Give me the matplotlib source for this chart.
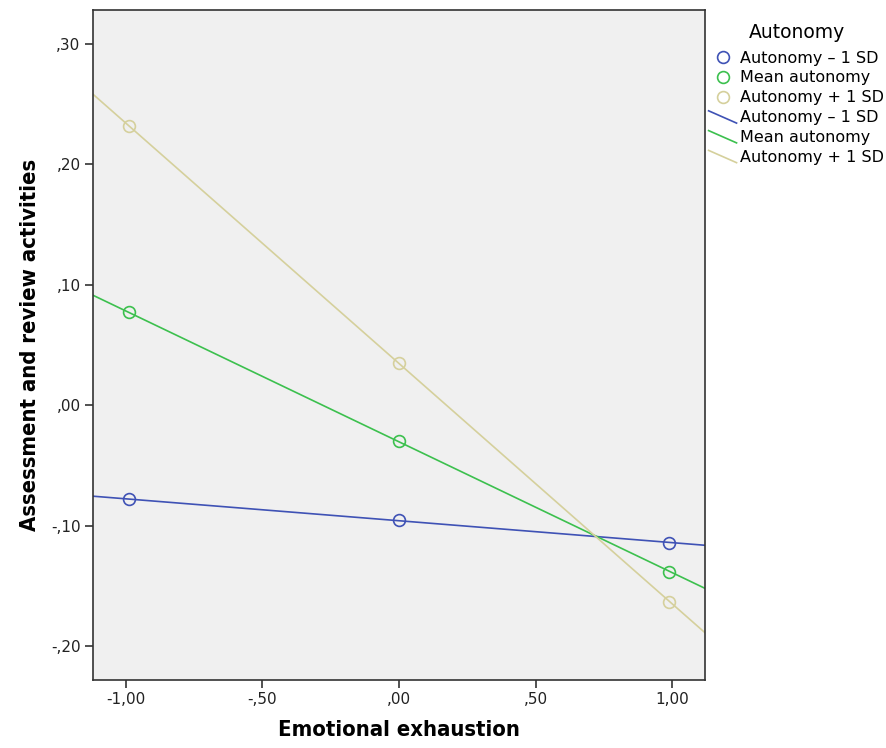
import numpy as np
import matplotlib
matplotlib.use("Agg")
import matplotlib.pyplot as plt
from matplotlib.lines import Line2D
from matplotlib.legend_handler import HandlerBase
from matplotlib.ticker import FuncFormatter, MultipleLocator

# Data
x_levels = [-0.99, 0.0, 0.99]
series_names = ["Autonomy \u2013 1 SD", "Mean autonomy", "Autonomy + 1 SD"]
legend_title = "Autonomy"
low_sd = [-0.078, -0.0955, -0.114]
mean_aut = [0.077, -0.030, -0.138]
high_sd = [0.232, 0.035, -0.163]
colors = ["#3f52b5", "#3cc04e", "#d5d09c"]

xlim = (-1.12, 1.12)
ylim = (-0.228, 0.328)

fig = plt.figure(figsize=(8.86, 7.48), dpi=100)
ax = fig.add_axes([93/886, 1-680/748, (705-93)/886, (680-10)/748])
ax.set_facecolor("#f0f0f0")

marker_handles = []
line_handles = []
xs = np.array(xlim)
for name, ys, c in zip(series_names, [low_sd, mean_aut, high_sd], colors):
    mh, = ax.plot(x_levels, ys, "o", mfc="none", mec=c, ms=8.5, mew=1.2, label=name, zorder=3)
    coef = np.polyfit(x_levels, ys, 1)
    lh, = ax.plot(xs, np.polyval(coef, xs), "-", color=c, lw=1.2, label=name, zorder=2)
    marker_handles.append(mh)
    line_handles.append(lh)

ax.set_xlim(*xlim)
ax.set_ylim(*ylim)
ax.xaxis.set_major_locator(MultipleLocator(0.5))
ax.yaxis.set_major_locator(MultipleLocator(0.1))

def fmt(v, pos):
    s = f"{v:.2f}".replace(".", ",")
    if abs(v) < 1e-9:
        return ",00"
    if s.startswith("0,"):
        s = s[1:]
    elif s.startswith("-0,"):
        s = "-" + s[2:]
    return s

ax.xaxis.set_major_formatter(FuncFormatter(fmt))
ax.yaxis.set_major_formatter(FuncFormatter(fmt))
ax.tick_params(direction="out", length=6, width=1.2, color="#333333",
               labelsize=11, labelcolor="#222222", pad=3)
ax.tick_params(top=False, right=False)
for sp in ax.spines.values():
    sp.set_color("#333333")
    sp.set_linewidth(1.2)

lab_font = dict(family=["DejaVu Sans"], stretch="condensed", weight="bold", size=15.8)
ax.set_xlabel("Emotional exhaustion", labelpad=9, **lab_font)
ax.set_ylabel("Assessment and review activities", labelpad=8, **lab_font)


class HandlerDiag(HandlerBase):
    def create_artists(self, legend, orig_handle, xdescent, ydescent, width, height, fontsize, trans):
        l = Line2D([-xdescent, -xdescent + width],
                   [-ydescent + height * 1.0, -ydescent - height * 0.1],
                   color=orig_handle.get_color(), lw=orig_handle.get_linewidth(),
                   transform=trans)
        return [l]

hmap = {h: HandlerDiag() for h in line_handles}
fig.text(797/886, 1-32/748, legend_title, ha="center", va="center", fontsize=13.5)
leg = fig.legend(marker_handles + line_handles, series_names + series_names,
                 loc="upper left", bbox_to_anchor=(707/886, 1-49/748),
                 frameon=False,
                 prop=dict(size=11.5),
                 handlelength=1.75, handletextpad=0.2, labelspacing=0.3,
                 borderpad=0.1, borderaxespad=0, handler_map=hmap)

fig.savefig("out.png", dpi=100)
